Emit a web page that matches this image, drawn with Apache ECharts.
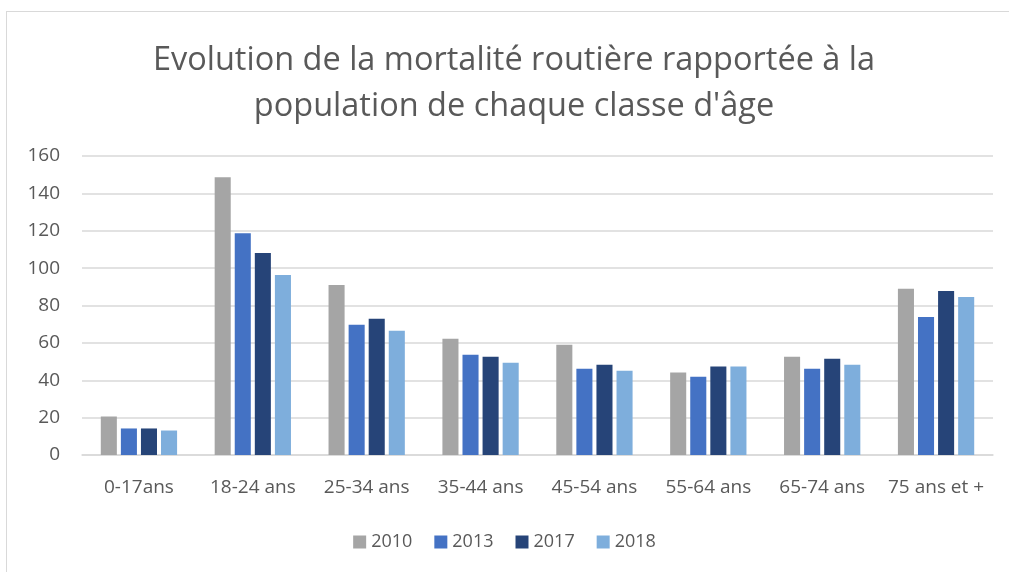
<!DOCTYPE html>
<html>
<head>
<meta charset="utf-8">
<script src="https://cdn.jsdelivr.net/npm/echarts@6/dist/echarts.min.js"></script>
<style>
  html, body { margin: 0; padding: 0; background: #fff; overflow: hidden; }
  #frame { position: absolute; left: 6px; top: 11px; width: 1020px; height: 600px; border: 1px solid #d9d9d9; }
  #chart { position: absolute; left: 0; top: 0; width: 1009px; height: 572px; }
</style>
</head>
<body>
<div id="frame"></div>
<div id="chart"></div>
<script>
const categories = ['0-17ans', '18-24 ans', '25-34 ans', '35-44 ans', '45-54 ans', '55-64 ans', '65-74 ans', '75 ans et +']
const years = ['2010', '2013', '2017', '2018']
const v2010 = [20.6, 148.6, 91.0, 62.2, 59.0, 44.1, 52.6, 88.9]
const v2013 = [14.2, 118.7, 69.7, 53.7, 46.2, 41.9, 46.2, 73.9]
const v2017 = [14.2, 108.1, 72.9, 52.6, 48.3, 47.3, 51.5, 87.8]
const v2018 = [13.1, 96.3, 66.5, 49.4, 45.1, 47.3, 48.3, 84.6]
const colors = ['#a5a5a5', '#4472c4', '#264478', '#7eaedc']

const font = '"Open Sans", sans-serif'
let myChart = echarts.init(document.getElementById('chart'))

const seriesData = [v2010, v2013, v2017, v2018]
const options = {
  animation: false,
  color: colors,
  title: {
    text: 'Evolution de la mortalité routière rapportée à la\npopulation de chaque classe d\'âge',
    left: 509,
    top: 33,
    textAlign: 'center',
    textStyle: {
      fontFamily: font,
      fontSize: 32.5,
      fontWeight: 'normal',
      color: '#595959',
      lineHeight: 46
    }
  },
  legend: {
    data: years,
    top: 528,
    left: 'center',
    itemWidth: 13,
    itemHeight: 13,
    itemGap: 22,
    icon: 'rect',
    textStyle: { fontFamily: font, fontSize: 18, color: '#595959' }
  },
  grid: {
    left: 82,
    right: 16,
    top: 156,
    bottom: 117
  },
  xAxis: {
    type: 'category',
    data: categories,
    axisTick: { show: false },
    axisLine: { lineStyle: { color: '#d9d9d9', width: 1.5 } },
    axisLabel: { interval: 0, fontFamily: font, fontSize: 19, color: '#595959', margin: 23 }
  },
  yAxis: {
    type: 'value',
    min: 0,
    max: 160,
    interval: 20,
    axisLine: { show: false },
    axisTick: { show: false },
    splitLine: { lineStyle: { color: '#d9d9d9', width: 1.5 } },
    axisLabel: { fontFamily: font, fontSize: 19, color: '#595959', margin: 22 }
  },
  series: years.map((y, i) => ({
    name: y,
    type: 'bar',
    data: seriesData[i],
    barGap: '25%',
    barCategoryGap: '33%'
  }))
}
myChart.setOption(options)
</script>
</body>
</html>
